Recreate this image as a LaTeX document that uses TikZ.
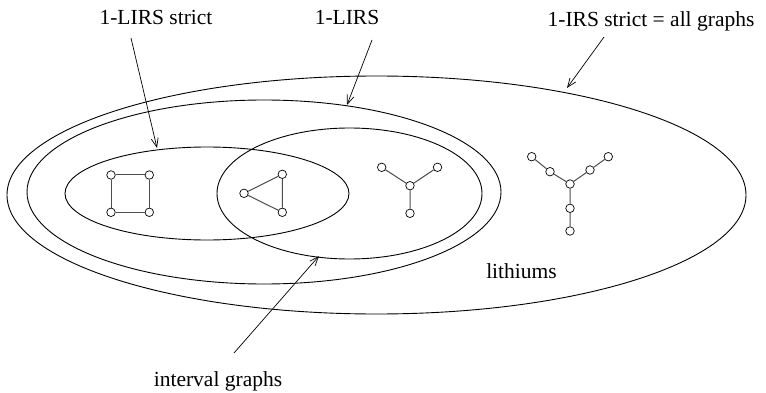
\documentclass[tikz,border=0pt]{standalone}
\usepackage{fontspec}
\setmainfont{Liberation Serif}
\usetikzlibrary{arrows.meta,shapes.geometric}
\begin{document}
\begin{tikzpicture}[x=1pt,y=-1pt,
  ell/.style={draw, ellipse, line width=0.9pt, inner sep=0pt},
  vtx/.style={circle, draw, fill=white, inner sep=0pt, minimum size=8.5pt, line width=0.7pt},
  edg/.style={line width=1pt, black!70},
  lbl/.style={font=\fontsize{21.5}{25}\selectfont, inner sep=0pt, anchor=base},
  arr/.style={line width=0.7pt, -{Straight Barb[length=9pt,width=7pt]}}]
\useasboundingbox (0,0) rectangle (766,393);
% ellipses
\node[ell, minimum width=739pt, minimum height=238pt] (allg) at (376.5,195) {};
\node[ell, minimum width=474pt, minimum height=184pt] (lirs) at (264,192) {};
\node[ell, minimum width=284pt, minimum height=93pt] (strict) at (207,193.5) {};
\node[ell, minimum width=265pt, minimum height=131pt] (interval) at (349.5,193.5) {};
% labels
\node[lbl] (lstrict) at (156,25) {1-LIRS strict};
\node[lbl] (llirs) at (347,25) {1-LIRS};
\node[lbl] (lall) at (651,27) {1-IRS strict = all graphs};
\node[lbl] (llith) at (521.5,278) {lithiums};
\node[lbl] (lint) at (218,386) {interval graphs};
% arrows
\coordinate (s0) at (131,38);  \coordinate (s1) at (157,148);
\coordinate (l0) at (372,40);  \coordinate (l1) at (347,105);
\coordinate (a0) at (604,37);  \coordinate (a1) at (567,88);
\coordinate (i0) at (234,353); \coordinate (i1) at (319,256);
\draw[arr] (s0) -- (s1);
\draw[arr] (l0) -- (l1);
\draw[arr] (a0) -- (a1);
\draw[arr] (i0) -- (i1);
% square
\node[vtx] (q1) at (111,175) {};
\node[vtx] (q2) at (149.3,175) {};
\node[vtx] (q3) at (149.3,212.3) {};
\node[vtx] (q4) at (111,212.3) {};
\draw[edg] (q1) -- (q2) (q2) -- (q3) (q3) -- (q4) (q4) -- (q1);
% triangle
\node[vtx] (t1) at (244,193.3) {};
\node[vtx] (t2) at (282.3,174.3) {};
\node[vtx] (t3) at (282.3,212.3) {};
\draw[edg] (t1) -- (t2) (t2) -- (t3) (t3) -- (t1);
% small Y
\node[vtx] (y0) at (410,185.7) {};
\node[vtx] (y1) at (381.7,167.3) {};
\node[vtx] (y2) at (437.5,167.3) {};
\node[vtx] (y3) at (410,213.3) {};
\draw[edg] (y0) -- (y1) (y0) -- (y2) (y0) -- (y3);
% big Y
\node[vtx] (b0) at (570,184) {};
\node[vtx] (b1) at (550,171.7) {};
\node[vtx] (b2) at (531.7,156.7) {};
\node[vtx] (b3) at (590,170) {};
\node[vtx] (b4) at (608.3,156.7) {};
\node[vtx] (b5) at (570,208.3) {};
\node[vtx] (b6) at (570,231) {};
\draw[edg] (b0) -- (b1) (b1) -- (b2) (b0) -- (b3) (b3) -- (b4) (b0) -- (b5) (b5) -- (b6);
\end{tikzpicture}
\end{document}
